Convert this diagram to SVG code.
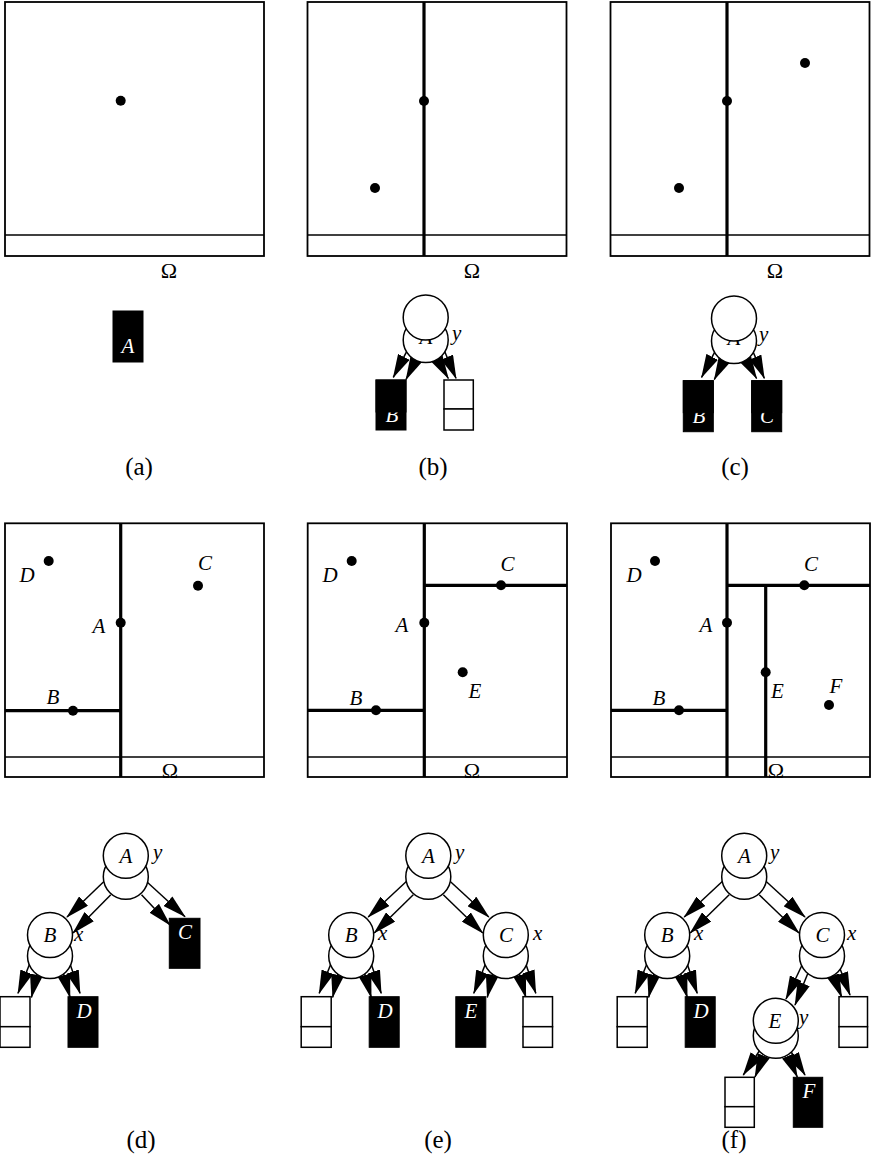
<svg xmlns="http://www.w3.org/2000/svg" width="873" height="1156" viewBox="0 0 873 1156">
<style>
.box{fill:none;stroke:#000;stroke-width:1.8}
.thin{stroke:#000;stroke-width:1.5}
.split{stroke:#000;stroke-width:3.2}
.dot{fill:#000}
.lbl{font-family:"Liberation Serif",serif;font-style:italic;font-size:21px;fill:#000}
.wl{font-family:"Liberation Serif",serif;font-style:italic;font-size:21px;fill:#fff;text-anchor:middle}
.mid{text-anchor:middle}
.om{font-family:"Liberation Serif",serif;font-size:22px;text-anchor:middle;fill:#000}
.cap{font-family:"Liberation Serif",serif;font-size:25px;text-anchor:middle;fill:#000}
.node{fill:#fff;stroke:#000;stroke-width:1.5}
.leaf{fill:#000;stroke:#000;stroke-width:1}
.empty{fill:#fff;stroke:#000;stroke-width:1.5}
.edge{stroke:#000;stroke-width:1.5;fill:none;marker-end:url(#ah)}
</style>
<defs>
<marker id="ah" markerUnits="userSpaceOnUse" markerWidth="24" markerHeight="13" refX="23" refY="6.5" orient="auto"><path d="M0,0 L24,6.5 L0,13 Z" fill="#000"/></marker>
</defs>
<rect width="873" height="1156" fill="#fff"/>

<!-- Panel (a) -->
<g id="panel-a">
<rect class="box" x="5" y="2" width="259" height="254"/>
<line class="thin" x1="5" y1="235" x2="264" y2="235"/>
<circle class="dot" cx="120.7" cy="100.7" r="5"/>
<text class="om" x="169" y="278">Ω</text>
</g>
<!-- Panel (b) -->
<g id="panel-b">
<rect class="box" x="307.5" y="2" width="259" height="254"/>
<line class="thin" x1="307.5" y1="235" x2="566.5" y2="235"/>
<line class="split" x1="424" y1="2" x2="424" y2="256"/>
<circle class="dot" cx="424" cy="101" r="5"/>
<circle class="dot" cx="375" cy="188" r="5"/>
<text class="om" x="472" y="278">Ω</text>
</g>
<!-- Panel (c) -->
<g id="panel-c">
<rect class="box" x="610.5" y="2" width="259" height="254"/>
<line class="thin" x1="610.5" y1="235" x2="869.5" y2="235"/>
<line class="split" x1="727" y1="2" x2="727" y2="256"/>
<circle class="dot" cx="727" cy="101" r="5"/>
<circle class="dot" cx="679" cy="188" r="5"/>
<circle class="dot" cx="805" cy="63" r="5"/>
<text class="om" x="775" y="278">Ω</text>
</g>

<!-- Panel (d) -->
<g id="panel-d">
<text class="om" x="170" y="778">Ω</text>
<rect class="box" x="5" y="523.3" width="259" height="253.7"/>
<line class="thin" x1="5" y1="757" x2="264" y2="757"/>
<line class="split" x1="120.7" y1="523.3" x2="120.7" y2="777"/>
<line class="split" x1="5" y1="710.7" x2="120.7" y2="710.7"/>
<circle class="dot" cx="48.7" cy="561" r="5"/>
<circle class="dot" cx="120.7" cy="622.7" r="5"/>
<circle class="dot" cx="198" cy="585.7" r="5"/>
<circle class="dot" cx="73" cy="710.7" r="5"/>
<text class="lbl mid" x="27" y="582">D</text>
<text class="lbl mid" x="99" y="633">A</text>
<text class="lbl mid" x="205" y="570">C</text>
<text class="lbl mid" x="53" y="704">B</text>
</g>
<!-- Panel (e) -->
<g id="panel-e">
<text class="om" x="472" y="778">Ω</text>
<rect class="box" x="307.7" y="523.3" width="259.3" height="253.7"/>
<line class="thin" x1="307.7" y1="757" x2="567" y2="757"/>
<line class="split" x1="424.3" y1="523.3" x2="424.3" y2="777"/>
<line class="split" x1="307.7" y1="710.3" x2="424.3" y2="710.3"/>
<line class="split" x1="424.3" y1="585.3" x2="567" y2="585.3"/>
<circle class="dot" cx="351.7" cy="561" r="5"/>
<circle class="dot" cx="424.3" cy="622.7" r="5"/>
<circle class="dot" cx="501" cy="585.3" r="5"/>
<circle class="dot" cx="376" cy="710.3" r="5"/>
<circle class="dot" cx="462.7" cy="672.3" r="5"/>
<text class="lbl mid" x="330" y="582">D</text>
<text class="lbl mid" x="402" y="632">A</text>
<text class="lbl mid" x="507.5" y="571">C</text>
<text class="lbl mid" x="356" y="705">B</text>
<text class="lbl mid" x="475" y="698">E</text>
</g>
<!-- Panel (f) -->
<g id="panel-f">
<text class="om" x="776" y="778">Ω</text>
<rect class="box" x="611" y="523.3" width="259" height="253.7"/>
<line class="thin" x1="611" y1="757" x2="870" y2="757"/>
<line class="split" x1="727" y1="523.3" x2="727" y2="777"/>
<line class="split" x1="611" y1="710.3" x2="727" y2="710.3"/>
<line class="split" x1="727" y1="585.3" x2="870" y2="585.3"/>
<line class="split" x1="765.7" y1="585.3" x2="765.7" y2="777"/>
<circle class="dot" cx="655" cy="561" r="5"/>
<circle class="dot" cx="727" cy="622.7" r="5"/>
<circle class="dot" cx="804.3" cy="585.3" r="5"/>
<circle class="dot" cx="679" cy="710.3" r="5"/>
<circle class="dot" cx="765.7" cy="672.3" r="5"/>
<circle class="dot" cx="829" cy="705" r="5"/>
<text class="lbl mid" x="634" y="582">D</text>
<text class="lbl mid" x="706" y="632">A</text>
<text class="lbl mid" x="811" y="571">C</text>
<text class="lbl mid" x="659" y="705">B</text>
<text class="lbl mid" x="777.5" y="698">E</text>
<text class="lbl mid" x="836" y="693">F</text>
</g>

<!-- Connectors -->
<g id="connectors">
<!-- (b) -->
<line class="edge" x1="408.3" y1="348.3" x2="393.3" y2="377.3"/>
<line class="edge" x1="416.7" y1="358.3" x2="406" y2="379.5"/>
<line class="edge" x1="443.3" y1="348.3" x2="456" y2="378.3"/>
<line class="edge" x1="436.7" y1="358.3" x2="448.3" y2="378.5"/>
<!-- (c) -->
<line class="edge" x1="716.6" y1="348.3" x2="701.6" y2="377.3"/>
<line class="edge" x1="725" y1="358.3" x2="714.3" y2="379.5"/>
<line class="edge" x1="751.6" y1="348.3" x2="764.3" y2="378.3"/>
<line class="edge" x1="745" y1="358.3" x2="756.6" y2="378.5"/>
<!-- (d) A->B, A->C -->
<line class="edge" x1="106.8" y1="878.8" x2="67" y2="917"/>
<line class="edge" x1="110.8" y1="894.8" x2="73" y2="933"/>
<line class="edge" x1="146.5" y1="881.5" x2="185" y2="916.7"/>
<line class="edge" x1="141.5" y1="894.8" x2="170" y2="925"/>
<!-- (d) B->leaves -->
<line class="edge" x1="32" y1="958" x2="18" y2="993.3"/>
<line class="edge" x1="37" y1="972" x2="31.5" y2="997.3"/>
<line class="edge" x1="68" y1="958" x2="80" y2="993.3"/>
<line class="edge" x1="63" y1="972" x2="70" y2="997.3"/>
<!-- (e) A->B, A->C -->
<line class="edge" x1="409.3" y1="878.8" x2="368.2" y2="917"/>
<line class="edge" x1="413.3" y1="894.8" x2="374.2" y2="933"/>
<line class="edge" x1="447.3" y1="878.8" x2="488.8" y2="917"/>
<line class="edge" x1="443.3" y1="894.8" x2="482.8" y2="933"/>
<!-- (e) B->leaves -->
<line class="edge" x1="333.2" y1="958" x2="319.2" y2="993.3"/>
<line class="edge" x1="338.2" y1="972" x2="332.7" y2="997.3"/>
<line class="edge" x1="369.2" y1="958" x2="381.2" y2="993.3"/>
<line class="edge" x1="364.2" y1="972" x2="371.2" y2="997.3"/>
<!-- (e) C->leaves -->
<line class="edge" x1="487.8" y1="958" x2="473.8" y2="993.3"/>
<line class="edge" x1="492.8" y1="972" x2="487.3" y2="997.3"/>
<line class="edge" x1="523.8" y1="958" x2="535.8" y2="993.3"/>
<line class="edge" x1="518.8" y1="972" x2="525.8" y2="997.3"/>
<!-- (f) A->B, A->C -->
<line class="edge" x1="725.2" y1="878.8" x2="684.2" y2="917"/>
<line class="edge" x1="729.2" y1="894.8" x2="690.2" y2="933"/>
<line class="edge" x1="763.2" y1="878.8" x2="805" y2="917"/>
<line class="edge" x1="759.2" y1="894.8" x2="799" y2="933"/>
<!-- (f) B->leaves -->
<line class="edge" x1="649.2" y1="958" x2="635.2" y2="993.3"/>
<line class="edge" x1="654.2" y1="972" x2="648.7" y2="997.3"/>
<line class="edge" x1="685.2" y1="958" x2="697.2" y2="993.3"/>
<line class="edge" x1="680.2" y1="972" x2="687.2" y2="997.3"/>
<!-- (f) C->E, C->leaf -->
<line class="edge" x1="803" y1="963" x2="786" y2="999"/>
<line class="edge" x1="808" y1="973" x2="795" y2="1005"/>
<line class="edge" x1="836" y1="958" x2="850" y2="995"/>
<line class="edge" x1="831" y1="970" x2="841.7" y2="997"/>
<!-- (f) E->leaves -->
<line class="edge" x1="760" y1="1050" x2="743.3" y2="1075"/>
<line class="edge" x1="763.3" y1="1056.7" x2="755" y2="1077"/>
<line class="edge" x1="790" y1="1050" x2="805" y2="1075"/>
<line class="edge" x1="788.3" y1="1056.7" x2="797.3" y2="1077"/>
</g>

<!-- Tree (a) -->
<g id="a-A">
<rect class="leaf" x="113" y="311" width="30" height="51"/>
<text class="wl" x="128" y="353">A</text>
</g>

<!-- Tree (b) -->
<g id="b-A">
<circle class="node" cx="425.7" cy="340" r="22.5"/>
<text class="lbl mid" x="426" y="344">A</text>
<circle class="node" cx="425.7" cy="317.5" r="22.5"/>
<text class="lbl" x="452" y="340">y</text>
</g>
<g id="b-B">
<rect class="leaf" x="376" y="380" width="30" height="50"/>
<text class="wl" x="392" y="421.5">B</text>
<rect class="leaf" x="376" y="380" width="30" height="32"/>
</g>
<g id="b-empty">
<rect class="empty" x="444" y="380" width="29.3" height="29"/>
<rect class="empty" x="444" y="409" width="29.3" height="21"/>
</g>

<!-- Tree (c) -->
<g id="c-A">
<circle class="node" cx="734" cy="341" r="22.5"/>
<text class="lbl mid" x="734" y="345">A</text>
<circle class="node" cx="734" cy="318.5" r="22.5"/>
<text class="lbl" x="759" y="341">y</text>
</g>
<g id="c-B">
<rect class="leaf" x="683.3" y="380.7" width="30" height="51"/>
<text class="wl" x="699" y="422.5">B</text>
<rect class="leaf" x="683.3" y="380.7" width="30" height="32"/>
</g>
<g id="c-C">
<rect class="leaf" x="751.7" y="380.7" width="30" height="51"/>
<text class="wl" x="767" y="422.5">C</text>
<rect class="leaf" x="751.7" y="380.7" width="30" height="32"/>
</g>

<!-- Tree (d) -->
<g id="d-A">
<circle class="node" cx="125.8" cy="876.8" r="22.5"/>
<circle class="node" cx="125.8" cy="855.8" r="22.5"/>
<text class="lbl mid" x="126" y="863">A</text>
<text class="lbl" x="153" y="859">y</text>
</g>
<g id="d-B">
<circle class="node" cx="50" cy="956" r="22.5"/>
<circle class="node" cx="50" cy="935" r="22.5"/>
<text class="lbl mid" x="50" y="942">B</text>
<text class="lbl" x="74" y="941">x</text>
</g>
<g id="d-C">
<rect class="leaf" x="169.3" y="918.3" width="30.7" height="50"/>
<text class="wl" x="185" y="939">C</text>
</g>
<g id="d-empty">
<rect class="empty" x="0" y="996.7" width="30" height="30"/>
<rect class="empty" x="0" y="1026.7" width="30" height="20.6"/>
</g>
<g id="d-D">
<rect class="leaf" x="68" y="996.7" width="30" height="50.6"/>
<text class="wl" x="84" y="1018">D</text>
</g>

<!-- Tree (e) -->
<g id="e-A">
<circle class="node" cx="428.3" cy="876.8" r="22.5"/>
<circle class="node" cx="428.3" cy="855.8" r="22.5"/>
<text class="lbl mid" x="428.5" y="863">A</text>
<text class="lbl" x="455" y="859">y</text>
</g>
<g id="e-B">
<circle class="node" cx="351.2" cy="956" r="22.5"/>
<circle class="node" cx="351.2" cy="935" r="22.5"/>
<text class="lbl mid" x="351.2" y="942">B</text>
<text class="lbl" x="378" y="940">x</text>
</g>
<g id="e-C">
<circle class="node" cx="505.8" cy="956" r="22.5"/>
<circle class="node" cx="505.8" cy="935" r="22.5"/>
<text class="lbl mid" x="506" y="942">C</text>
<text class="lbl" x="533" y="940">x</text>
</g>
<g id="e-empty1">
<rect class="empty" x="301.2" y="996.7" width="30" height="30"/>
<rect class="empty" x="301.2" y="1026.7" width="30" height="20.6"/>
</g>
<g id="e-D">
<rect class="leaf" x="369.2" y="996.7" width="30" height="50.6"/>
<text class="wl" x="385" y="1018">D</text>
</g>
<g id="e-E">
<rect class="leaf" x="455.8" y="996.7" width="30" height="50.6"/>
<text class="wl" x="471" y="1018">E</text>
</g>
<g id="e-empty2">
<rect class="empty" x="523" y="996.7" width="29.5" height="30"/>
<rect class="empty" x="523" y="1026.7" width="29.5" height="20.6"/>
</g>

<!-- Tree (f) -->
<g id="f-A">
<circle class="node" cx="744.2" cy="876.8" r="22.5"/>
<circle class="node" cx="744.2" cy="855.8" r="22.5"/>
<text class="lbl mid" x="744.5" y="863">A</text>
<text class="lbl" x="770" y="859">y</text>
</g>
<g id="f-B">
<circle class="node" cx="667.2" cy="956" r="22.5"/>
<circle class="node" cx="667.2" cy="935" r="22.5"/>
<text class="lbl mid" x="667.2" y="942">B</text>
<text class="lbl" x="694" y="940">x</text>
</g>
<g id="f-C">
<circle class="node" cx="822" cy="956" r="22.5"/>
<circle class="node" cx="822" cy="935" r="22.5"/>
<text class="lbl mid" x="822.5" y="942">C</text>
<text class="lbl" x="847" y="940">x</text>
</g>
<g id="f-empty1">
<rect class="empty" x="617.2" y="996.7" width="30" height="30"/>
<rect class="empty" x="617.2" y="1026.7" width="30" height="20.6"/>
</g>
<g id="f-D">
<rect class="leaf" x="685.2" y="996.7" width="30" height="50.6"/>
<text class="wl" x="701" y="1018">D</text>
</g>
<g id="f-E">
<circle class="node" cx="775.8" cy="1035.8" r="22.5"/>
<circle class="node" cx="775.8" cy="1020.8" r="22.5"/>
<text class="lbl mid" x="775" y="1028">E</text>
<text class="lbl" x="799" y="1024">y</text>
</g>
<g id="f-empty2">
<rect class="empty" x="839" y="996.7" width="28.5" height="30"/>
<rect class="empty" x="839" y="1026.7" width="28.5" height="20.6"/>
</g>
<g id="f-empty3">
<rect class="empty" x="725" y="1077.3" width="29.3" height="29.4"/>
<rect class="empty" x="725" y="1106.7" width="29.3" height="20.6"/>
</g>
<g id="f-F">
<rect class="leaf" x="793.3" y="1077.3" width="29.4" height="50"/>
<text class="wl" x="809" y="1098">F</text>
</g>

<!-- Captions -->
<text class="cap" x="139" y="475">(a)</text>
<text class="cap" x="433" y="475">(b)</text>
<text class="cap" x="735" y="475">(c)</text>
<text class="cap" x="141" y="1148">(d)</text>
<text class="cap" x="438" y="1148">(e)</text>
<text class="cap" x="734" y="1148">(f)</text>
</svg>
